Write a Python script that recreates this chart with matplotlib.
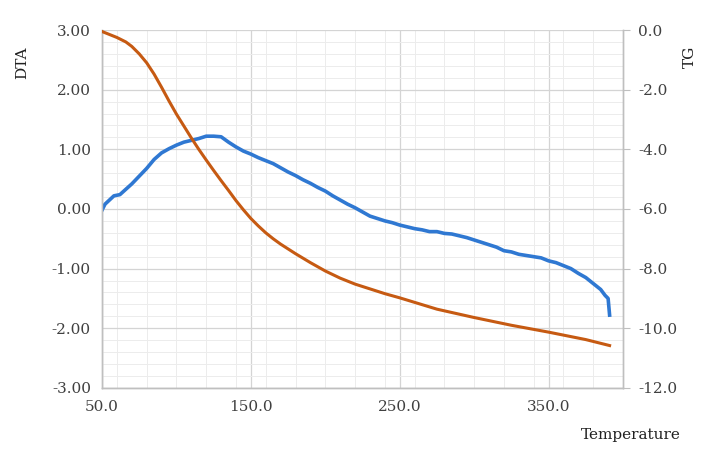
import matplotlib.pyplot as plt
from matplotlib.ticker import MultipleLocator, FormatStrFormatter

# DTA curve (left axis)
dta_temp = [50, 52, 55, 58, 62, 66, 70, 75, 80, 85, 90, 95, 100, 105, 110,
            115, 120, 125, 130, 135, 140, 145, 150, 155, 160, 165, 170, 175,
            180, 185, 190, 195, 200, 205, 210, 215, 220, 225, 230, 235, 240,
            245, 250, 255, 260, 265, 270, 275, 280, 285, 290, 295, 300, 305,
            310, 315, 320, 325, 330, 335, 340, 345, 350, 355, 360, 365, 370,
            375, 380, 385, 388, 390, 391]
dta_val = [-0.02, 0.08, 0.15, 0.22, 0.24, 0.33, 0.42, 0.55, 0.68, 0.83, 0.94,
           1.01, 1.07, 1.12, 1.15, 1.18, 1.22, 1.22, 1.21, 1.12, 1.04, 0.97,
           0.92, 0.86, 0.81, 0.76, 0.69, 0.62, 0.56, 0.49, 0.43, 0.36, 0.30,
           0.22, 0.15, 0.08, 0.02, -0.05, -0.12, -0.16, -0.20, -0.23, -0.27,
           -0.30, -0.33, -0.35, -0.38, -0.38, -0.41, -0.42, -0.45, -0.48,
           -0.52, -0.56, -0.60, -0.64, -0.70, -0.72, -0.76, -0.78, -0.80,
           -0.82, -0.87, -0.90, -0.95, -1.00, -1.08, -1.15, -1.25, -1.35,
           -1.45, -1.50, -1.78]

# TG curve (right axis)
tg_temp = [50, 55, 60, 66, 70, 75, 80, 85, 90, 95, 100, 105, 110, 115, 120,
           125, 130, 135, 140, 145, 150, 155, 160, 165, 170, 180, 190, 200,
           210, 220, 230, 240, 250, 275, 300, 325, 350, 375, 391]
tg_val = [-0.05, -0.15, -0.25, -0.40, -0.55, -0.80, -1.10, -1.48, -1.92,
          -2.38, -2.82, -3.22, -3.62, -4.00, -4.36, -4.71, -5.05, -5.38,
          -5.72, -6.03, -6.32, -6.57, -6.80, -7.00, -7.18, -7.50, -7.80,
          -8.08, -8.32, -8.52, -8.68, -8.84, -8.98, -9.36, -9.64, -9.90,
          -10.13, -10.38, -10.58]

x_ticks = [50, 150, 250, 350]

plt.rcParams['font.family'] = 'DejaVu Serif'
plt.rcParams['font.size'] = 11

fig = plt.figure(figsize=(7.09, 4.5), dpi=100)
ax = fig.add_axes([0.1439, 0.138, 0.8787 - 0.1439, 0.9333 - 0.138])
ax2 = ax.twinx()

ax.set_xlim(50, 400)
ax.set_ylim(-3, 3)
ax2.set_ylim(-12, 0)

ax.xaxis.set_minor_locator(MultipleLocator(20))
ax.set_xticks(x_ticks)
ax.xaxis.set_major_formatter(FormatStrFormatter('%.1f'))
ax.yaxis.set_major_locator(MultipleLocator(1))
ax.yaxis.set_minor_locator(MultipleLocator(0.2))
ax.yaxis.set_major_formatter(FormatStrFormatter('%.2f'))
ax2.yaxis.set_major_locator(MultipleLocator(2))
ax2.yaxis.set_major_formatter(FormatStrFormatter('%.1f'))

ax.grid(which='major', color='#d4d4d4', lw=0.9)
ax.grid(which='minor', color='#ececec', lw=0.7)
ax.set_axisbelow(True)

ax.plot(dta_temp, dta_val, color='#2F78D2', lw=2.6, zorder=3)
ax2.plot(tg_temp, tg_val, color='#C65A12', lw=2.2, zorder=3)

for a in (ax, ax2):
    a.spines['top'].set_visible(False)
    for s in ('left', 'right', 'bottom'):
        a.spines[s].set_color('#bfbfbf')
        a.spines[s].set_linewidth(1.0)

ax.tick_params(axis='both', which='both', length=0, colors='#404040', pad=8)
ax.tick_params(axis='x', pad=9)
ax2.tick_params(axis='y', which='both', length=5, color='#bfbfbf',
                labelcolor='#404040', pad=6)

fig.text(0.031, 0.86, 'DTA', rotation=90, ha='center', va='center',
         color='#202020', fontsize=11)
fig.text(0.973, 0.873, 'TG', rotation=90, ha='center', va='center',
         color='#202020', fontsize=11)
fig.text(0.89, 0.033, 'Temperature', ha='center', va='center',
         color='#202020', fontsize=11)

fig.savefig('out.png', dpi=100)
